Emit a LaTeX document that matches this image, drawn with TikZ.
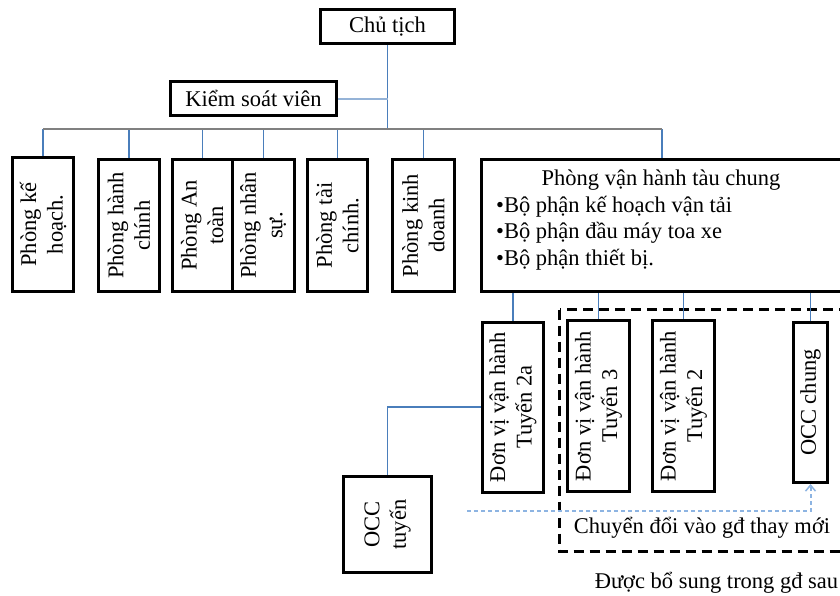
\documentclass[tikz,border=0pt]{standalone}
\usepackage{fontspec}
\setmainfont{Liberation Serif}
\usetikzlibrary{arrows.meta}
\definecolor{linkblue}{HTML}{4A7EBB}
\definecolor{busgray}{HTML}{808080}
\definecolor{paleblue}{HTML}{95B3D7}
\definecolor{convblue}{HTML}{8DB4E2}
\begin{document}
\begin{tikzpicture}[x=1pt,y=-1pt,
  every node/.style={font=\fontsize{22.5}{26.5}\selectfont, inner sep=0pt},
  box/.style={draw=black, line width=3pt, fill=white, align=center},
  vbox/.style={box, rotate=90},
  link/.style={draw=linkblue, line width=1.2pt},
  buslink/.style={draw=busgray, line width=2pt},
  sidelink/.style={draw=paleblue, line width=2pt},
  phasebox/.style={draw=black, line width=3pt, dash pattern=on 10pt off 6pt},
  convarrow/.style={draw=convblue, line width=2pt, dash pattern=on 4pt off 3pt,
    -{Straight Barb[length=6pt,width=10pt,line width=1.5pt]}},
]
\useasboundingbox (0,0) rectangle (840,595);

% top management
\node[box, minimum width=134, minimum height=34] (ct) at (387.5,26.5) {Chủ tịch};
\node[box, minimum width=166, minimum height=34] (ksv) at (253.5,98.5) {Kiểm soát viên};

% departments (rotated boxes: east = top, west = bottom, north = left, south = right)
\node[vbox, minimum width=134, minimum height=61] (k1) at (43,224.5) {Phòng kế\\hoạch.};
\node[vbox, minimum width=132, minimum height=61] (k2) at (129,225.5) {Phòng hành\\chính};
\node[vbox, minimum width=132, minimum height=59.5] (k3) at (202.25,225.5) {Phòng An\\toàn};
\node[vbox, minimum width=132, minimum height=62.5] (k4) at (263.25,225.5) {Phòng nhân\\sự.};
\node[vbox, minimum width=132, minimum height=60] (k5) at (337.5,225.5) {Phòng tài\\chính.};
\node[vbox, minimum width=132, minimum height=62] (k6) at (423.5,225.5) {Phòng kinh\\doanh};

% joint operations department
\node[box, minimum width=370, minimum height=132] (ops) at (666.5,225.5) {};
\node[anchor=base] (opsT) at (661,185) {Phòng vận hành tàu chung};
\node[anchor=base west] (opsA) at (496,212) {•Bộ phận kế hoạch vận tải};
\node[anchor=base west] (opsB) at (496,238.5) {•Bộ phận đầu máy toa xe};
\node[anchor=base west] (opsC) at (496,265) {•Bộ phận thiết bị.};

% phase-two frame
\draw[phasebox] (559.5,309.5) rectangle (870,551.5);

% operating units
\node[vbox, minimum width=170, minimum height=61] (t2a) at (513,407) {Đơn vị vận hành\\Tuyến 2a};
\node[vbox, minimum width=171, minimum height=62] (t3) at (598.5,406) {Đơn vị vận hành\\Tuyến 3};
\node[vbox, minimum width=171, minimum height=62] (t2) at (683.5,406) {Đơn vị vận hành\\Tuyến 2};
\node[vbox, minimum width=160, minimum height=34] (occc) at (810.5,402.5) {OCC chung};
\node[vbox, minimum width=96, minimum height=88] (occt) at (387.5,524.5) {OCC\\tuyến};

% connectors
\coordinate (busL) at (43,129);
\coordinate (busR) at (662,129);
\draw[link] (ct.south) -- (ct.south |- busL);
\draw[sidelink] (ksv.east) -- (ct.south |- ksv.east);
\foreach \n in {k1,k2,k3,k4,k5,k6}
  \draw[link] (\n.east) -- (\n.east |- busL);
\draw[link] (busR) -- (busR |- ops.north);
\draw[buslink] (busL) -- (busR);
\foreach \n in {t2a,t3,t2,occc}
  \draw[link] (\n.east) -- (\n.east |- ops.south);
\draw[link] (t2a.north) -| (occt.east);

% transition arrow
\coordinate (cvs) at (467,511);
\draw[convarrow] (cvs) -| (occc.west);
\node[anchor=base] (cvt) at (702,533) {Chuyển đổi vào gđ thay mới};
\node[anchor=base] (later) at (716.5,588.5) {Được bổ sung trong gđ sau};
\end{tikzpicture}
\end{document}
